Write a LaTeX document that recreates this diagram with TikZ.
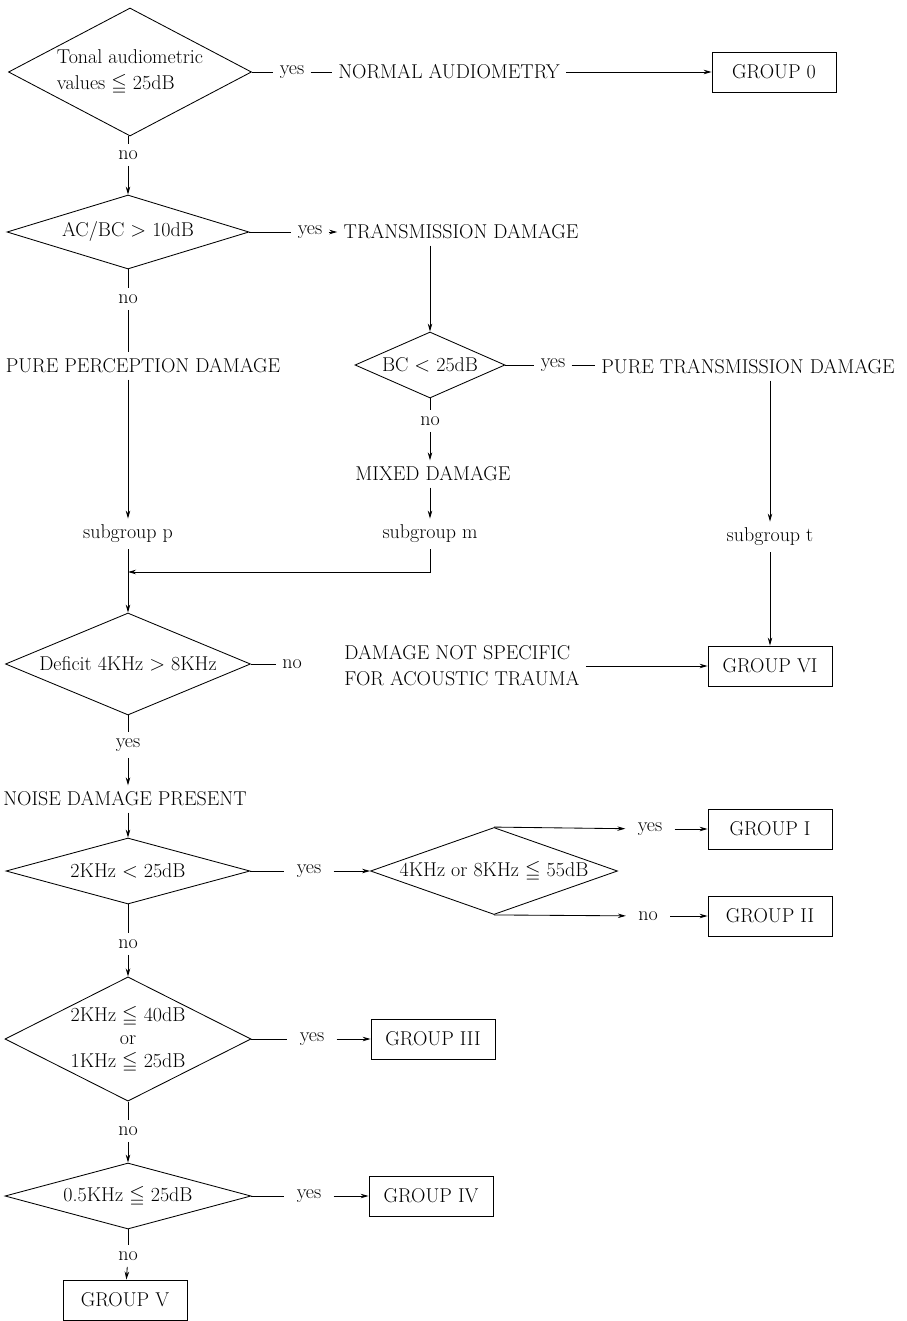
\documentclass[tikz,border=0pt]{standalone}
\usepackage{amsmath,amssymb}
\usepackage{tikz}
\usetikzlibrary{shapes,arrows.meta,positioning,calc}

\tikzset{
  decision/.style n args={3}{diamond, draw, inner sep=0pt, minimum width=#1pt, minimum height=#2pt, aspect=#3, align=center},
  groupbox/.style={draw, minimum width=124pt, minimum height=40pt, inner sep=0pt},
  lbl/.style={inner sep=6pt, align=left}
}

\begin{document}
\begin{tikzpicture}[x=1pt, y=-1pt, line width=0.85pt, >={Stealth[length=8pt,width=4.5pt]},
    every node/.style={font=\fontsize{20}{26}\selectfont}]
\useasboundingbox (0,0) rectangle (906,1321);

% Level 0
\node[decision={243}{128}{1.9}, align=left] (tonal) at (130,72) {Tonal audiometric\\values $\leqq$ 25dB};
\node[lbl] (yes1) at (292,72) {yes};
\node[lbl] (normal) at (449,72) {NORMAL AUDIOMETRY};
\node[groupbox] (g0) at (774,72) {GROUP 0};
\draw (tonal.east) -- (yes1);
\draw (yes1) -- (normal);
\draw[->] (normal) -- (g0);

\node[lbl] (no1) at (128,155) {no};
\draw (tonal.south -| no1) -- (no1);

% Level 1
\node[decision={242}{74}{3.27}] (acbc) at (128,232) {AC/BC $>$ 10dB};
\draw[->] (no1) -- (acbc.north);
\node[lbl] (yes2) at (310,232) {yes};
\node[lbl] (trans) at (461,232) {TRANSMISSION DAMAGE};
\draw (acbc.east) -- (yes2);
\draw[->] (yes2) -- (trans);

\node[decision={150}{66}{2.27}] (bc) at (430,365) {BC $<$ 25dB};
\draw[->] (trans.south -| bc.north) -- (bc.north);
\node[lbl] (yes3) at (553,365) {yes};
\node[lbl] (puretrans) at (748,367) {PURE TRANSMISSION DAMAGE};
\draw (bc.east) -- (yes3);
\draw (yes3) -- (puretrans.west |- yes3);

\node[lbl] (no2) at (128,299) {no};
\node[lbl] (perc) at (143,366) {PURE PERCEPTION DAMAGE};
\draw (acbc.south) -- (no2);
\draw (no2) -- (no2 |- perc.north);

% Level 2 - subgroups
\node[lbl] (no3) at (430,421) {no};
\node[lbl] (mixed) at (433,474) {MIXED DAMAGE};
\draw (bc.south) -- (no3);
\draw[->] (no3) -- (mixed.north -| no3);

\node[lbl] (subp) at (128,534) {subgroup p};
\node[lbl] (subm) at (430,534) {subgroup m};
\node[lbl] (subt) at (770,537) {subgroup t};
\draw[->] (perc.south -| subp) -- (subp);
\draw[->] (mixed.south -| subm) -- (subm);
\draw[->] (puretrans.south -| subt) -- (subt);

\coordinate (join) at (128,572);
\draw[->] (subm.south) |- (join);

% Level 3
\node[decision={245}{102}{2.4}] (deficit) at (128,664) {Deficit 4KHz $>$ 8KHz};
\draw[->] (subp) -- (deficit.north);
\node[lbl] (no4) at (292,664) {no};
\node[lbl] (damage) at (462,666) {DAMAGE NOT SPECIFIC\\FOR ACOUSTIC TRAUMA};
\node[groupbox] (g6) at (770,666) {GROUP VI};
\draw (deficit.east) -- (no4);
\draw[->] (damage) -- (g6);
\draw[->] (subt) -- (g6);

\node[lbl] (yes4) at (128,745) {yes};
\node[lbl] (noise) at (125,799) {NOISE DAMAGE PRESENT};
\draw (deficit.south) -- (yes4);
\draw[->] (yes4) -- (noise.north -| yes4);

% Level 4
\node[decision={244}{66}{3.7}] (khztwo) at (128,871) {2KHz $<$ 25dB};
\draw[->] (noise.south -| khztwo) -- (khztwo.north);
\node[lbl, inner xsep=12pt] (yes5) at (309,871) {yes};
\node[decision={247}{87}{2.84}] (khzfour) at (494,871) {4KHz or 8KHz $\leqq$ 55dB};
\draw (khztwo.east) -- (yes5);
\draw[->] (yes5) -- (khzfour.west);

\node[lbl, inner xsep=12pt] (yes6) at (650,829) {yes};
\node[groupbox] (g1) at (770,829) {GROUP I};
\node[lbl, inner xsep=12pt] (no6) at (648,916) {no};
\node[groupbox] (g2) at (770,916) {GROUP II};
\draw[->] (khzfour.north) -- (yes6);
\draw[->] (yes6) -- (g1);
\draw[->] (khzfour.south) -- (no6);
\draw[->] (no6) -- (g2);

% Level 5
\node[lbl] (no5) at (128,944) {no};
\draw (khztwo.south) -- (no5);
\node[decision={246}{124}{1.98}, font=\fontsize{20}{23}\selectfont] (khzmix) at (128,1039) {2KHz $\leqq$ 40dB\\or\\1KHz $\leqq$ 25dB};
\draw[->] (no5) -- (khzmix.north);
\node[lbl, inner xsep=12pt] (yes7) at (312,1039) {yes};
\node[groupbox] (g3) at (433,1039) {GROUP III};
\draw (khzmix.east) -- (yes7);
\draw[->] (yes7) -- (g3);

% Level 6
\node[lbl] (no7) at (128,1131) {no};
\draw (khzmix.south) -- (no7);
\node[decision={246}{66}{3.73}] (khzhalf) at (128,1196) {0.5KHz $\leqq$ 25dB};
\draw[->] (no7) -- (khzhalf.north);
\node[lbl, inner xsep=12pt] (yes8) at (309,1196) {yes};
\node[groupbox] (g4) at (431,1196) {GROUP IV};
\draw (khzhalf.east) -- (yes8);
\draw[->] (yes8) -- (g4);

\node[lbl] (no8) at (128,1256) {no};
\node[groupbox] (g5) at (125,1300) {GROUP V};
\draw (khzhalf.south) -- (no8);
\draw[->] (no8) -- (g5);
\end{tikzpicture}
\end{document}
